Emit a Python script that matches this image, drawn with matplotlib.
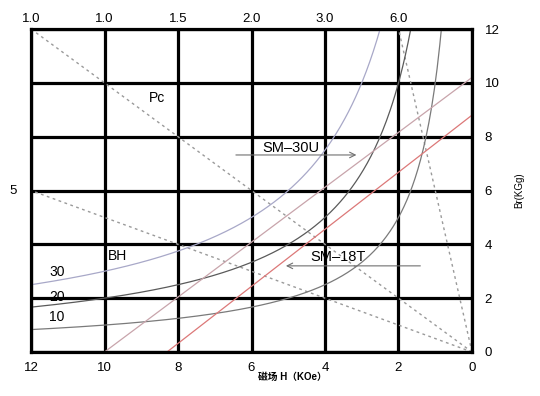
import numpy as np
import matplotlib.pyplot as plt

plt.rcParams['font.family'] = ['Liberation Sans', 'Noto Sans CJK SC', 'DejaVu Sans']

# axis ticks (H in kOe, reversed; Br in kG)
h_ticks = [12, 10, 8, 6, 4, 2, 0]
b_ticks = [0, 2, 4, 6, 8, 10, 12]
top_pos = [12, 10, 8, 6, 4, 2]
top_labels = ['1.0', '1.0', '1.5', '2.0', '3.0', '6.0']

# permeance (Pc) load lines: from origin to these end points
pc_h_end = [12, 12, 2]
pc_b_end = [12, 6, 12]

# BH energy product curves (MGOe)
bh_levels = [10, 20, 30]
bh_colors = ['#7a7a7a', '#5a5a5a', '#a8a8c8']

# demagnetization lines: (Hc, Br)
grades = ['SM-30U', 'SM-18T']
grade_hc = [10.0, 8.3]
grade_br = [10.2, 8.8]
grade_colors = ['#c8a4ab', '#dc7878']

fig = plt.figure(figsize=(5.4, 3.96), dpi=100)
ax = fig.add_axes([31/540, 44/396, 441/540, 323/396])
ax.set_xlim(12, 0)
ax.set_ylim(0, 12)

# thick black grid
for h in h_ticks:
    ax.axvline(h, color='black', lw=2.3, zorder=1)
for b in b_ticks:
    ax.axhline(b, color='black', lw=2.3, zorder=1)
for s in ax.spines.values():
    s.set_linewidth(2.3)

# Pc lines
for he, be in zip(pc_h_end, pc_b_end):
    ax.plot([0, he], [0, be], color='#9a9a9a', lw=1.0, ls=(0, (2, 2.5)), zorder=2)

# BH curves
for bh, c in zip(bh_levels, bh_colors):
    h = np.linspace(bh / 12.5, 12, 300)
    ax.plot(h, bh / h, color=c, lw=0.9, zorder=2)

# demagnetization lines
for hc, br, c in zip(grade_hc, grade_br, grade_colors):
    ax.plot([hc, 0], [0, br], color=c, lw=0.9, zorder=2)

# ticks
ax.set_xticks(h_ticks)
ax.set_yticks(b_ticks)
ax.tick_params(axis='x', length=0, pad=7, labelsize=9.5)
ax.yaxis.tick_right()
ax.tick_params(axis='y', length=0, pad=9, labelsize=9.5)
ax.set_xticklabels([str(v) for v in h_ticks])
ax.set_yticklabels([str(v) for v in b_ticks])

top = ax.secondary_xaxis('top')
top.set_xticks(top_pos)
top.set_xticklabels(top_labels)
top.tick_params(length=0, pad=3, labelsize=9.5)
top.spines['top'].set_visible(False)

ax.text(-0.041, 6, '5', transform=ax.get_yaxis_transform(), ha='center', va='center', fontsize=9.5)

ax.set_xlabel('磁场 H（KOe）', fontsize=7, fontweight='bold')
ax.xaxis.set_label_coords(0.592, -0.062)
ax.yaxis.set_label_position('right')
ax.set_ylabel('Br(KGg)', fontsize=7, labelpad=11)

# annotations
ax.text(8.57, 9.44, 'Pc', ha='center', va='center', fontsize=10)
ax.text(9.9, 3.57, 'BH', ha='left', va='center', fontsize=10)
ax.text(11.3, 2.97, '30', ha='center', va='center', fontsize=10)
ax.text(11.3, 2.04, '20', ha='center', va='center', fontsize=10)
ax.text(11.3, 1.30, '10', ha='center', va='center', fontsize=10)

ax.text(4.93, 7.58, 'SM–30U', ha='center', va='center', fontsize=10.5)
ax.annotate('', xy=(3.07, 7.32), xytext=(6.5, 7.32),
            arrowprops=dict(arrowstyle='->', color='#707070', lw=0.8))
ax.text(3.65, 3.53, 'SM–18T', ha='center', va='center', fontsize=10.5)
ax.annotate('', xy=(5.14, 3.2), xytext=(1.33, 3.2),
            arrowprops=dict(arrowstyle='->', color='#707070', lw=0.8))

fig.savefig('out.png', dpi=100)
